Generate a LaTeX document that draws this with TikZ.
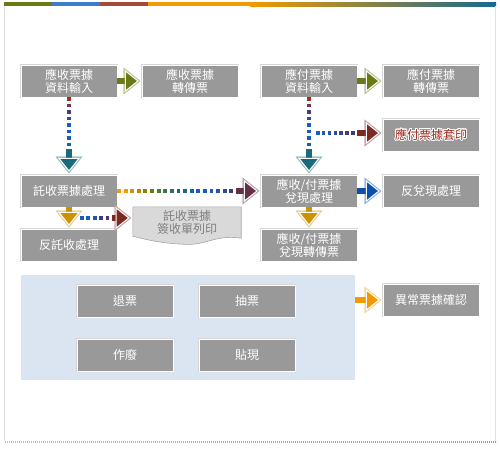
\documentclass[tikz,border=0pt]{standalone}
\usepackage{fontspec}
\setmainfont{Noto Sans CJK TC}
\usepackage[copies]{contour}
\contourlength{0.8pt}
\usetikzlibrary{positioning,calc,arrows.meta,backgrounds}

\definecolor{olv}{HTML}{6B7A17}
\definecolor{barblue}{HTML}{3D7CC9}
\definecolor{barbrown}{HTML}{A34B36}
\definecolor{barteal}{HTML}{16698F}
\definecolor{org}{HTML}{F29A00}
\definecolor{gld}{HTML}{CD9200}
\definecolor{brn}{HTML}{9E3026}
\definecolor{blu}{HTML}{1A5DC0}
\definecolor{nvy}{HTML}{46397A}
\definecolor{mar}{HTML}{7A2A22}
\definecolor{tel}{HTML}{1A6A7A}
\definecolor{arblue}{HTML}{0B4FAE}
\definecolor{boxgray}{HTML}{999999}
\definecolor{pnl}{HTML}{DBE5F1}
\definecolor{docfill}{HTML}{D9D9D9}
\definecolor{docgray}{HTML}{7F7F7F}
\definecolor{prt}{HTML}{9A2A1A}

\begin{document}
\begin{tikzpicture}[
  x=1pt, y=-1pt,
  font=\fontsize{12}{13}\selectfont,
  box/.style={fill=boxgray, draw=white, line width=1pt,
              preaction={draw=black!16, line width=2.6pt},
              text=white, align=center, inner sep=0pt, outer sep=0pt,
              minimum width=96pt, minimum height=32pt},
  seg/.style={draw=#1, line width=4.5pt},
  fatrim/.style={line width=6pt, draw=#1!45, shorten >=1.5pt,
                 -{Triangle[length=17pt, width=27pt, fill=#1!45, color=#1!45, line width=0.4pt]}},
  fat/.style={line width=6pt, draw=#1, shorten >=3.2pt,
              -{Triangle[length=14pt, width=22pt, fill=#1, color=white, line width=1pt]}},
]
\useasboundingbox (0,0) rectangle (500,450);
% page frame
\fill[olv] (4,2) rectangle (52,6);
\fill[barblue] (52,2) rectangle (100,6);
\fill[barbrown] (100,2) rectangle (148,6);
\fill[org] (148,2) rectangle (250,6);
\shade[left color=org, right color=barteal] (250,2) rectangle (496,6);
\draw[black!12] (4,6) -- (4,441) (495.5,6) -- (495.5,441);
\shade[left color=org!70, middle color=olv!60, right color=barblue!70] (4,441.5) rectangle (496,442.5);
\draw[white, line width=1.2pt, dash pattern=on 1pt off 1pt] (4,442) -- (496,442);

\node[fill=pnl, inner sep=0pt, minimum width=334pt, minimum height=105pt] (panel) at (188,327.5) {};

\node[box] (rcvin) at (69,81) {應收票據\\資料輸入};
\node[box, right=25pt of rcvin] (rcvpost) {應收票據\\轉傳票};
\node[box, right=144pt of rcvin] (payin) {應付票據\\資料輸入};
\node[box, right=26pt of payin] (paypost) {應付票據\\轉傳票};
\node[box, below=22pt of paypost, text=prt] (payprint) {\contour{white}{應付票據套印}};
\node[box, below=78pt of rcvin] (collect) {託收票據處理};
\node[box, below=22pt of collect] (uncollect) {反託收處理};
\node[box, below=78pt of payin] (cash) {應收/付票據\\兌現處理};
\node[box, right=26pt of cash] (uncash) {反兌現處理};
\node[box, below=22pt of cash] (cashpost) {應收/付票據\\兌現轉傳票};
\node[text=docgray, align=center, inner sep=0pt, minimum width=108pt, minimum height=30pt]
  (slip) at (187,222) {託收票據\\簽收單列印};
\begin{scope}[on background layer]
\filldraw[fill=docfill, draw=black!35, line width=0.6pt]
  (slip.north west) -- (slip.north east) -- ($(slip.south east)+(0,1)$)
  .. controls ($(slip.south east)+(-26,-3)$) and ($(slip.south east)+(-36,9)$) .. ($(slip.south)+(-4,7)$)
  .. controls ($(slip.south)+(-27,6)$) and ($(slip.south west)+(12,2)$) .. ($(slip.south west)+(0,-1)$)
  -- cycle;
\end{scope}

\node[box] (bounce) at (125,301) {退票};
\node[box, right=26pt of bounce] (withdraw) {抽票};
\node[box, below=22pt of bounce] (void) {作廢};
\node[box, right=26pt of void] (discount) {貼現};
\node[box] (check) at (431,300) {異常票據確認};

% dashed runs
\coordinate (rf) at ($(collect.north)+(0,-26)$);
\coordinate (pf) at ($(cash.north)+(0,-26)$);
\coordinate (branch) at (316,133);
\coordinate (bf) at (357,133);
\coordinate (be) at (branch -| payprint.west);
\coordinate (cf) at (236,191);
\coordinate (tap) at (80,218);
\coordinate (tf) at (112,218);
\coordinate (te) at (tap -| slip.west);

\foreach \c [count=\k from 0] in {brn, brn!50!nvy, nvy, nvy!50!blu, blu, blu, blu, blu}
  \draw[seg=\c] ($(rcvin.south)!\k/8!(rf)$) -- ($(rcvin.south)!\k/8+0.075!(rf)$);
\foreach \c [count=\k from 0] in {brn, brn!50!nvy, nvy, nvy!50!blu, blu, blu, blu, blu}
  \draw[seg=\c] ($(payin.south)!\k/8!(pf)$) -- ($(payin.south)!\k/8+0.075!(pf)$);
\foreach \c [count=\k from 0] in {blu, blu, blu!75!nvy, blu!50!nvy, blu!25!nvy, nvy, nvy}
  \draw[seg=\c] ($(branch)!\k/7!(bf)$) -- ($(branch)!\k/7+0.086!(bf)$);
\foreach \c [count=\k from 0] in {org, org, org!75!olv, org!50!olv, org!25!olv, olv, olv!75!tel,
    olv!50!tel, olv!25!tel, tel, tel!60!blu, tel!30!blu, blu, blu, blu, blu!70!nvy, blu!40!nvy, nvy}
  \draw[seg=\c] ($(collect.east)!\k/18!(cf)$) -- ($(collect.east)!\k/18+0.033!(cf)$);
\foreach \c [count=\k from 0] in {blu, blu, blu!70!nvy, nvy, nvy!70!mar}
  \draw[seg=\c] ($(tap)!\k/5!(tf)$) -- ($(tap)!\k/5+0.12!(tf)$);

% block arrows
\foreach \s/\t/\c in {rcvin/rcvpost/olv, payin/paypost/olv, rf/collect/tel, pf/cash/tel,
    bf/be/mar, cf/cash/mar!60!nvy, tf/te/mar, collect/uncollect/gld, cash/cashpost/gld,
    cash/uncash/arblue} {
  \draw[fatrim=\c] (\s) -- (\t);
  \draw[fat=\c] (\s) -- (\t);
}
\draw[fatrim=org] (panel.east |- check) -- (check);
\draw[fat=org] (panel.east |- check) -- (check);
\end{tikzpicture}
\end{document}
